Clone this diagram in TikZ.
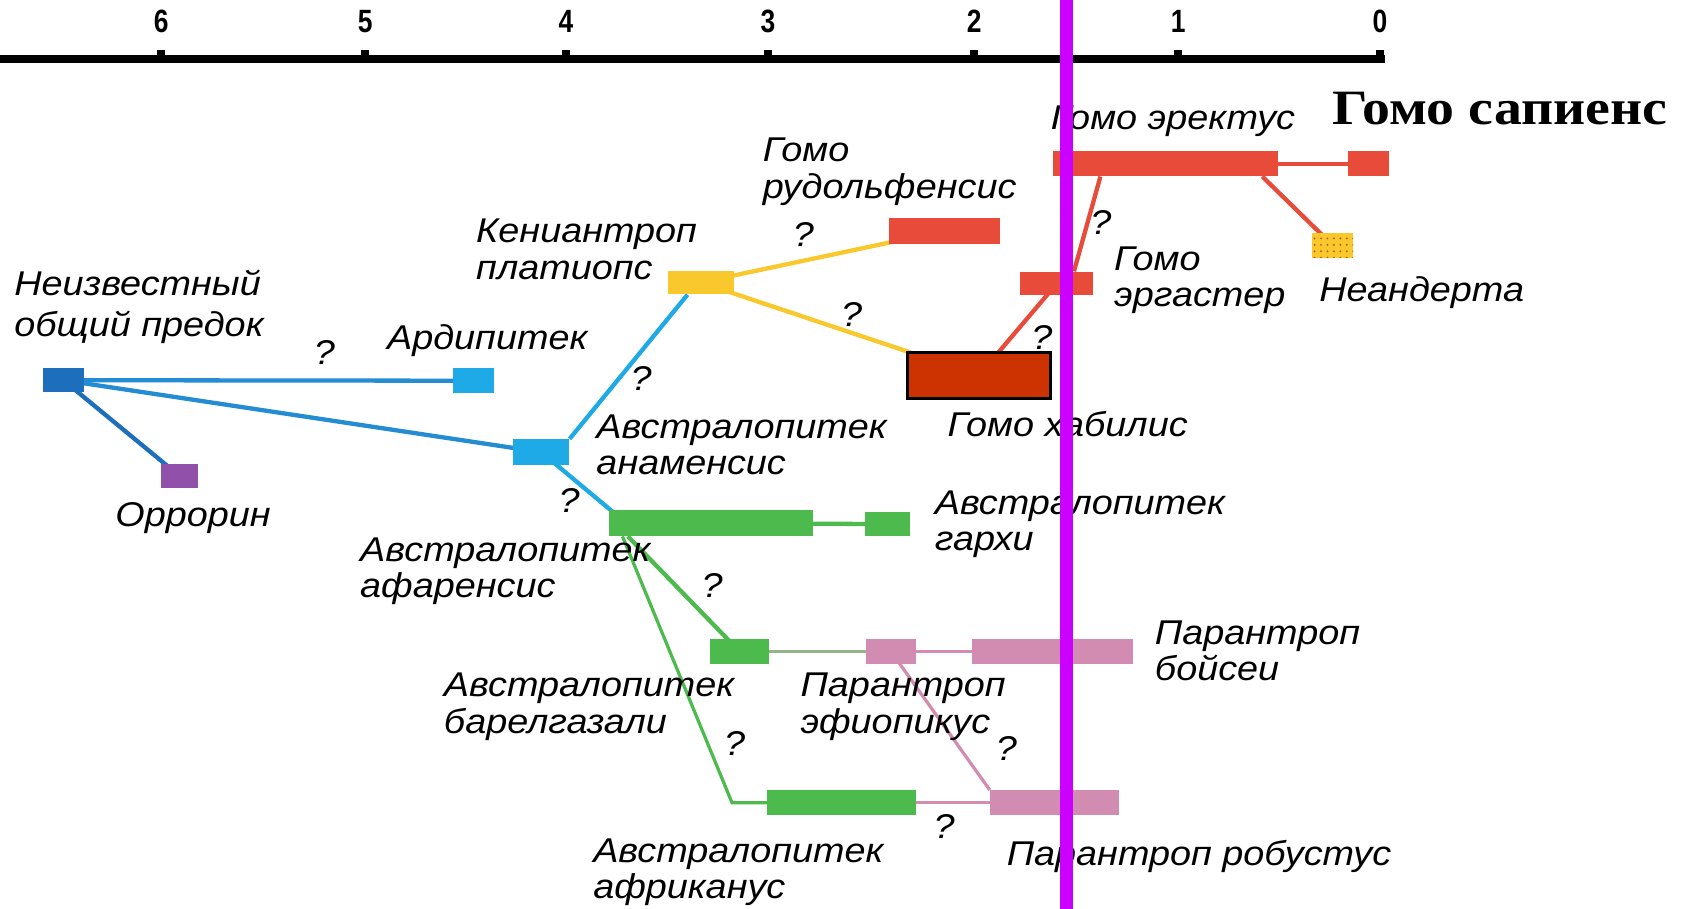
\documentclass[tikz,border=0pt]{standalone}
\usepackage{fontspec}
\newfontfamily\labfont[FakeStretch=1.1]{Liberation Sans}
\newfontfamily\numfont[FakeStretch=0.82]{Liberation Sans}
\newfontfamily\sapfont[FakeStretch=1.13]{Liberation Serif}
\usetikzlibrary{fit,calc,backgrounds,patterns}
\pgfdeclarelayer{lines}
\pgfsetlayers{background,lines,main}
\definecolor{cDblue}{RGB}{30,110,190}
\definecolor{cMblue}{RGB}{35,140,210}
\definecolor{cLblue}{RGB}{30,170,230}
\definecolor{cPurple}{RGB}{145,80,170}
\definecolor{cYellow}{RGB}{248,200,45}
\definecolor{cRed}{RGB}{232,75,58}
\definecolor{cGreen}{RGB}{76,186,76}
\definecolor{cPink}{RGB}{210,140,178}
\definecolor{cGrey}{RGB}{150,180,140}
\definecolor{cOver}{RGB}{204,51,0}
\definecolor{cMag}{RGB}{204,0,255}
\definecolor{cDot}{RGB}{190,90,20}
\begin{document}
\begin{tikzpicture}[x=0.5pt,y=-0.5pt,
  bar/.style={inner sep=0pt, draw=none, fill=#1},
  lab/.style={font=\labfont\itshape\fontsize{16}{17}\selectfont, align=left, anchor=west, inner sep=0pt},
  qm/.style={font=\labfont\itshape\fontsize{16}{17}\selectfont, inner sep=0pt},
  num/.style={font=\numfont\bfseries\fontsize{15}{16}\selectfont, inner sep=0pt},
  sapl/.style={font=\sapfont\bfseries\fontsize{23}{25}\selectfont, anchor=west, inner sep=0pt},
  link/.style={line width=2pt},
  thin/.style={line width=1.5pt}]
\useasboundingbox (0,0) rectangle (1568,846);
\begin{pgfonlayer}{background}
\fill[white] (0,0) rectangle (1568,846);
\end{pgfonlayer}

% time axis
\draw[line width=4pt] (0,55) -- (1290,55);
\foreach \x/\t in {150/6,340/5,527/4,715/3,907/2,1097/1,1285/0}{
  \fill (\x-4,47) rectangle (\x+4,55);
  \node[num] at (\x,20) {\t};
}

% bars
\node[bar=cDblue, fit={(40,343)(78,365)}] (anc) {};
\node[bar=cLblue, fit={(422,343)(460,366)}] (ardi) {};
\node[bar=cPurple, fit={(150,432)(184,454)}] (orr) {};
\node[bar=cLblue, fit={(478,409)(530,433)}] (anam) {};
\node[bar=cYellow, fit={(622,252)(683,274)}] (kenya) {};
\node[bar=cRed, fit={(828,203)(931,227)}] (rudolf) {};
\node[bar=cRed, fit={(950,253)(1018,275)}] (erg) {};
\node[bar=cRed, fit={(980,141)(1190,164)}] (erect) {};
\node[bar=cRed, fit={(1255,141)(1293,164)}] (sap) {};
\node[bar=cYellow, postaction={pattern=dots, pattern color=cDot}, fit={(1222,217)(1260,240)}] (neand) {};
\node[bar=cGreen, fit={(567,475)(757,499)}] (afar) {};
\node[bar=cGreen, fit={(805,477)(847,499)}] (garhi) {};
\node[bar=cGreen, fit={(661,595)(716,618)}] (bahr) {};
\node[bar=cPink, fit={(806,595)(853,618)}] (aeth) {};
\node[bar=cPink, fit={(905,595)(1055,618)}] (bois) {};
\node[bar=cGreen, fit={(714,736)(853,759)}] (afr) {};
\node[bar=cPink, fit={(922,736)(1042,759)}] (rob) {};
\node[inner sep=0pt, fill=cOver, draw=black, line width=1.2pt, fit={(845,328)(978,371)}] (hab) {};

% connectors
\begin{pgfonlayer}{lines}
\draw[link, cMblue] (anc.center) -- (ardi.center);
\draw[link, cMblue] (anc.center) -- (anam.center);
\draw[link, cDblue] (anc.center) -- (orr.center);
\draw[link, cLblue] (anam.north east) -- ($(kenya.south west)!0.3!(kenya.south east)$);
\draw[link, cLblue] (anam.center) -- ($(afar.north west)+(4,2)$);
\draw[link, cYellow] (kenya.center) -- (rudolf.center);
\draw[link, cYellow] (kenya.center) -- (hab.center);
\draw[link, cRed] (hab.center) -- (erg.center);
\draw[link, cRed] ($(erg.north)+(16,0)$) -- ($(erect.south west)+(45,0)$);
\draw[link, cRed] (erect.center) -- (sap.center);
\draw[link, cRed] ($(erect.south east)+(-15,0)$) -- (neand.center);
\draw[link, cGreen] (afar.center) -- (garhi.center);
\draw[link, cGreen] ($(afar.south west)+(18,0)$) -- (bahr.center);
\draw[thin, cGreen] ($(afar.south west)+(13,0)$) -- ($(afr.west)+(-32,0)$) -- (afr.center);
\draw[thin, cGrey] (bahr.center) -- (aeth.center);
\draw[thin, cPink] (aeth.center) -- (bois.center);
\draw[thin, cPink] (aeth.center) -- (rob.north west);
\draw[thin, cPink] (afr.center) -- (rob.center);
\end{pgfonlayer}

% question marks
\foreach \x/\y in {302/328,597/352,530/466,748/218,793/293,970/314,1025/207,663/545,684/692,937/697,879/770}{
  \node[qm] at (\x,\y) {?};
}

% labels
\node[lab, font=\labfont\itshape\fontsize{16}{19}\selectfont] (lanc) at (13,286) {Неизвестный\\общий предок};
\node[lab] (lardi) at (360,317) {Ардипитек};
\node[lab] (lorr) at (107,482) {Оррорин};
\node[lab] (lkenya) at (443,232) {Кениантроп\\платиопс};
\node[lab] (lrud) at (710,160) {Гомо\\рудольфенсис};
\node[lab] (lanam) at (555,414) {Австралопитек\\анаменсис};
\node[lab] (lafar) at (335,532) {Австралопитек\\афаренсис};
\node[lab] (lgarhi) at (870,488) {Австралопитек\\гархи};
\node[lab] (lbahr) at (413,658) {Австралопитек\\барелгазали};
\node[lab] (laeth) at (745,658) {Парантроп\\эфиопикус};
\node[lab] (lbois) at (1075,606) {Парантроп\\бойсеи};
\node[lab] (lafr) at (552,812) {Австралопитек\\африканус};
\node[lab] (lrob) at (937,797) {Парантроп робустус};
\node[lab] (lhab) at (882,395) {Гомо хабилис};
\node[lab] (lerg) at (1037,261) {Гомо\\эргастер};
\node[lab] (lerect) at (978,113) {Гомо эректус};
\node[lab] (lneand) at (1228,272) {Неандерта};
\node[sapl] (lsap) at (1240,101) {Гомо сапиенс};

% marker line
\fill[cMag] (987,0) rectangle (999,846);
\end{tikzpicture}
\end{document}
